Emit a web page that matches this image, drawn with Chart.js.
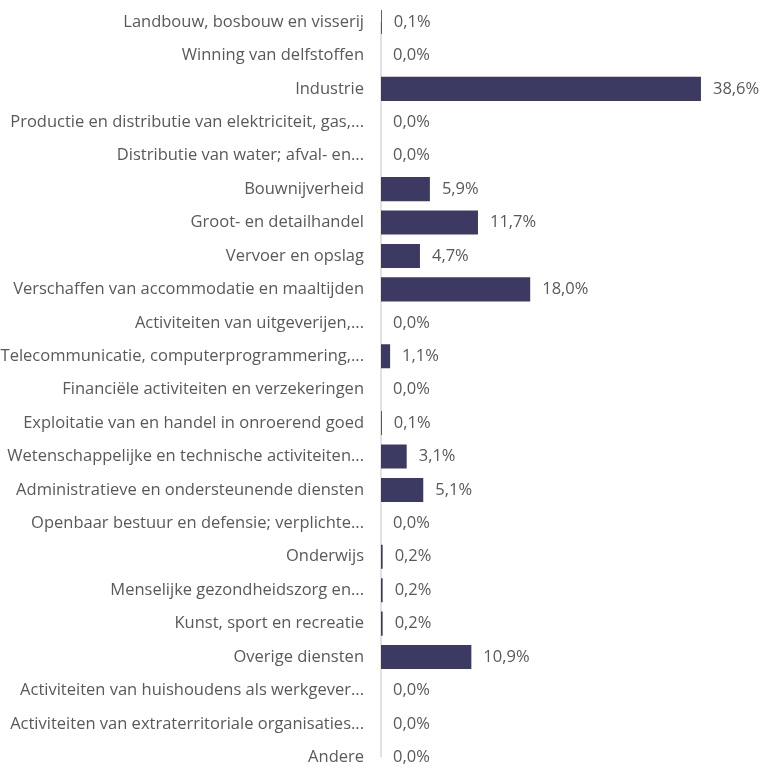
<!DOCTYPE html>
<html><head><meta charset="utf-8">
<script src="https://cdn.jsdelivr.net/npm/chart.js@4/dist/chart.umd.min.js"></script>
<style>html,body{margin:0;padding:0;background:#fff;overflow:hidden}#wrap{width:777px;height:780px;position:relative}</style>
</head><body><div id="wrap"><canvas id="c"></canvas></div>
<script>
const categories = [
  "Landbouw, bosbouw en visserij",
  "Winning van delfstoffen",
  "Industrie",
  "Productie en distributie van elektriciteit, gas,...",
  "Distributie van water; afval- en...",
  "Bouwnijverheid",
  "Groot- en detailhandel",
  "Vervoer en opslag",
  "Verschaffen van accommodatie en maaltijden",
  "Activiteiten van uitgeverijen,...",
  "Telecommunicatie, computerprogrammering,...",
  "Financiële activiteiten en verzekeringen",
  "Exploitatie van en handel in onroerend goed",
  "Wetenschappelijke en technische activiteiten...",
  "Administratieve en ondersteunende diensten",
  "Openbaar bestuur en defensie; verplichte...",
  "Onderwijs",
  "Menselijke gezondheidszorg en...",
  "Kunst, sport en recreatie",
  "Overige diensten",
  "Activiteiten van huishoudens als werkgever...",
  "Activiteiten van extraterritoriale organisaties...",
  "Andere"
];
const shares = [0.1, 0.0, 38.6, 0.0, 0.0, 5.9, 11.7, 4.7, 18.0, 0.0, 1.1, 0.0, 0.1, 3.1, 5.1, 0.0, 0.2, 0.2, 0.2, 10.9, 0.0, 0.0, 0.0];

const FONT = "'Open Sans', sans-serif";
const TXT = '#595959';

const valueLabels = {
  id: 'valueLabels',
  afterDatasetsDraw(chart) {
    const ctx = chart.ctx;
    const meta = chart.getDatasetMeta(0);
    ctx.save();
    ctx.font = '16.5px ' + FONT;
    ctx.fillStyle = TXT;
    ctx.textBaseline = 'middle';
    ctx.textAlign = 'left';
    meta.data.forEach((bar, i) => {
      const txt = shares[i].toFixed(1).replace('.', ',') + '%';
      ctx.fillText(txt, bar.x + 12, bar.y);
    });
    ctx.restore();
  }
};
const axisLine = {
  id: 'axisLine',
  beforeDatasetsDraw(chart) {
    const y = chart.scales.y, x = chart.scales.x;
    const ctx = chart.ctx;
    ctx.save();
    ctx.strokeStyle = '#d9d9d9';
    ctx.lineWidth = 1.5;
    ctx.beginPath();
    ctx.moveTo(x.left, y.getPixelForValue(0));
    ctx.lineTo(x.left, y.getPixelForValue(categories.length - 1));
    ctx.stroke();
    ctx.restore();
  }
};

new Chart(document.getElementById('c'), {
  type: 'bar',
  data: {
    labels: categories,
    datasets: [{
      data: shares,
      backgroundColor: '#3c3a62',
      barPercentage: 0.72,
      categoryPercentage: 1.0
    }]
  },
  options: {
    indexAxis: 'y',
    responsive: true,
    maintainAspectRatio: false,
    animation: false,
    layout: { padding: { top: 5.3, bottom: 6, left: 0, right: 23 } },
    plugins: { legend: { display: false }, tooltip: { enabled: false } },
    scales: {
      x: { display: false, min: 0, max: 45 },
      y: {
        afterFit(s) { s.width = 381; s.paddingTop = 0; s.paddingBottom = 0; },
        grid: { display: false, drawTicks: false },
        border: { display: false },
        ticks: { padding: 17, color: TXT, font: { family: FONT, size: 16.5 }, autoSkip: false }
      }
    }
  },
  plugins: [valueLabels, axisLine]
});
</script></body></html>
